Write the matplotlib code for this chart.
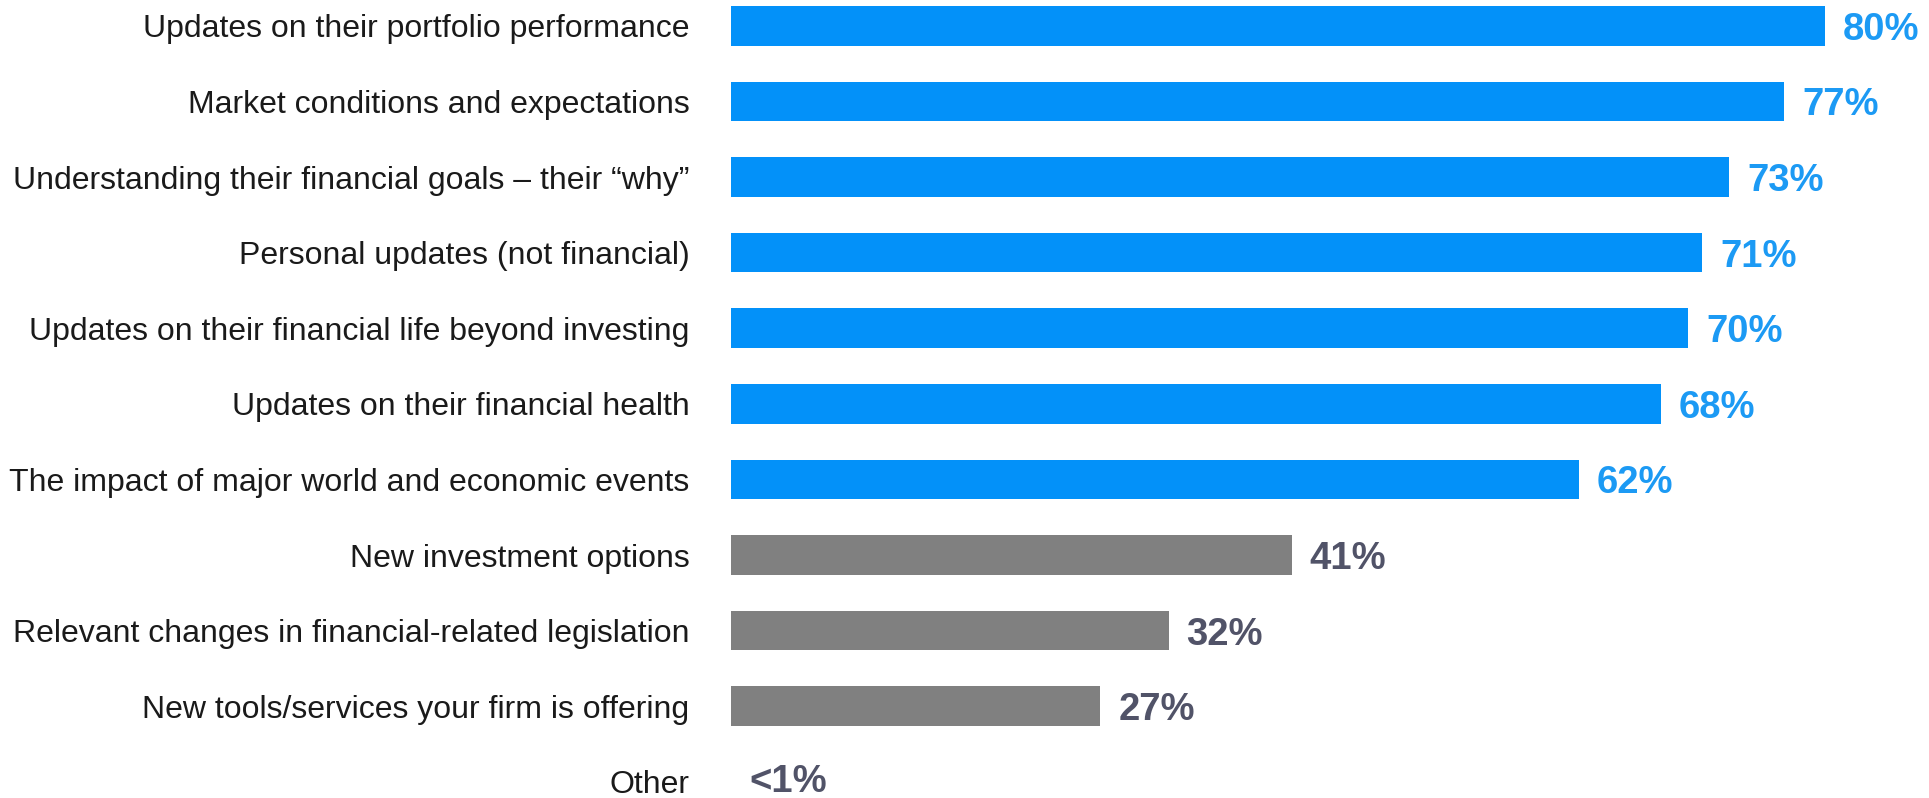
import matplotlib
matplotlib.use("Agg")
import matplotlib.pyplot as plt

# ── Data ────────────────────────────────────────────────────────────────
CATEGORIES = [
    "Updates on their portfolio performance",
    "Market conditions and expectations",
    "Understanding their financial goals \u2013 their \u201cwhy\u201d",
    "Personal updates (not financial)",
    "Updates on their financial life beyond investing",
    "Updates on their financial health",
    "The impact of major world and economic events",
    "New investment options",
    "Relevant changes in financial-related legislation",
    "New tools/services your firm is offering",
    "Other",
]
VALUES = [80, 77, 73, 71, 70, 68, 62, 41, 32, 27, 0]
LABELS = ["80%", "77%", "73%", "71%", "70%", "68%", "62%", "41%", "32%", "27%", "<1%"]
HIGHLIGHT = [True] * 7 + [False] * 4

# ── Style ───────────────────────────────────────────────────────────────
BLUE_BAR = "#0391F9"
BLUE_TXT = "#1C9AF4"
GRAY_BAR = "#808080"
GRAY_TXT = "#515368"
plt.rcParams["font.family"] = ["Liberation Sans", "DejaVu Sans"]

W, H, DPI = 1929, 798, 100
fig = plt.figure(figsize=(W / DPI, H / DPI), dpi=DPI)

# axes starts where the bars start and runs to the right edge
x0_px, px_per_pct = 731, 13.675
row0_px, row_px = 25.8, 75.6
ax = fig.add_axes([x0_px / W, 0, 1 - x0_px / W, 1])
ax.set_xlim(0, (W - x0_px) / px_per_pct)
ax.set_ylim((H - row0_px) / row_px, -row0_px / row_px)

ypos = list(range(len(CATEGORIES)))
colors = [BLUE_BAR if h else GRAY_BAR for h in HIGHLIGHT]
ax.barh(ypos, VALUES, height=0.525, color=colors)

# value labels sit on a baseline just below the bar centre;
# the last row is nudged up so it stays inside the figure
gap = 18 / px_per_pct
for y, v, lab, h in zip(ypos, VALUES, LABELS, HIGHLIGHT):
    drop = (14 if y < len(ypos) - 1 else 10) / row_px
    ax.text(v + gap, y + drop, lab, va="baseline", ha="left", fontsize=27.5,
            fontweight="bold", color=BLUE_TXT if h else GRAY_TXT)

ax.set_yticks(ypos)
ax.set_yticklabels(CATEGORIES, fontsize=23, color="#1a1a1a")
ax.tick_params(axis="y", length=0, pad=30)
ax.set_xticks([])
for s in ax.spines.values():
    s.set_visible(False)

fig.savefig("out.png", dpi=DPI)
